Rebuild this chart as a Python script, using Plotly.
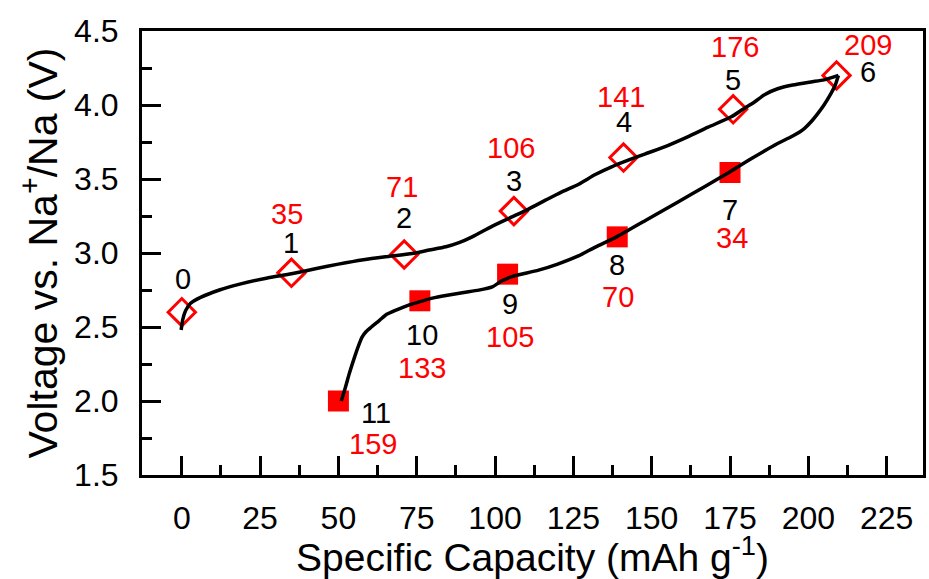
import plotly.graph_objects as go

# ---------------- data ----------------
charge_index = [0, 1, 2, 3, 4, 5, 6]
charge_capacity = [0, 35, 71, 106, 141, 176, 209]
charge_voltage = [2.60, 2.866, 2.99, 3.283, 3.645, 3.971, 4.20]

discharge_index = [7, 8, 9, 10, 11]
discharge_label = [34, 70, 105, 133, 159]
discharge_capacity = [175, 139, 104, 76, 50]
discharge_voltage = [3.544, 3.109, 2.857, 2.677, 2.00]

charge_curve_x = [-0.2, 0.3, 1.2, 2.8, 6, 12, 18.5, 27, 35, 43, 50, 58, 65, 73.6, 79,
                  84.3, 88.5, 92.7, 99, 105.4, 110, 116.1, 121, 126.7, 132, 137.2,
                  142.5, 148, 155.3, 162, 168, 175.4, 179, 182.8, 186, 190.2, 195,
                  200.8, 205, 209.6]
charge_curve_y = [2.48, 2.55, 2.61, 2.66, 2.70, 2.75, 2.79, 2.83, 2.86, 2.895, 2.925,
                  2.955, 2.975, 2.997, 3.02, 3.042, 3.07, 3.109, 3.18, 3.244, 3.29,
                  3.357, 3.41, 3.465, 3.53, 3.582, 3.627, 3.67, 3.728, 3.79, 3.85,
                  3.92, 3.97, 4.02, 4.07, 4.11, 4.135, 4.156, 4.17, 4.20]

discharge_curve_x = [209.6, 208.5, 207.2, 205, 203, 200.8, 198.7, 195, 190.2, 182,
                     174.9, 167, 158.4, 148, 138.8, 132, 126.6, 120, 113.9, 108,
                     105.4, 102, 99.1, 94.8, 90, 84.3, 80, 75.8, 72, 68.4, 65, 63.1,
                     60.5, 58.8, 57.5, 56.7, 55.2, 53.5, 52.2, 50.9]
discharge_curve_y = [4.20, 4.13, 4.077, 4.0, 3.942, 3.885, 3.841, 3.79, 3.74, 3.64,
                     3.548, 3.45, 3.345, 3.22, 3.109, 3.04, 2.98, 2.925, 2.884, 2.855,
                     2.84, 2.81, 2.771, 2.749, 2.733, 2.713, 2.695, 2.67, 2.645, 2.614,
                     2.58, 2.545, 2.50, 2.468, 2.43, 2.389, 2.30, 2.187, 2.09, 2.00]

x_ticks = [0, 25, 50, 75, 100, 125, 150, 175, 200, 225]
y_ticks = [1.5, 2.0, 2.5, 3.0, 3.5, 4.0, 4.5]

# ---------------- label offsets (pixels: dx right, dy down) ----------------
charge_idx_off = [(1, -33), (0, -30), (0, -36), (0, -30), (0, -36), (0, -29), (31, -3)]
charge_cap_off = [None, (-4, -59), (-2, -67), (-3, -63), (-3, -61), (2, -62), (31, -30)]
dis_idx_off = [(0, 38), (0, 28), (2, 30), (2, 34), (38, 12)]
dis_cap_off = [(2, 66), (1, 60), (2, 63), (2, 67), (35, 43)]

FONT = "Arial, Liberation Sans, Helvetica, sans-serif"
RED = "#ff0000"
LBL = 29

fig = go.Figure()

fig.add_trace(go.Scatter(
    x=charge_capacity, y=charge_voltage, mode="markers",
    marker=dict(symbol="diamond-open", size=21, color=RED, line=dict(width=3, color=RED)),
    showlegend=False, hoverinfo="skip"))
fig.add_trace(go.Scatter(
    x=discharge_capacity, y=discharge_voltage, mode="markers",
    marker=dict(symbol="square", size=21, color=RED, line=dict(width=0)),
    showlegend=False, hoverinfo="skip"))
fig.add_trace(go.Scatter(
    x=charge_curve_x, y=charge_curve_y, mode="lines",
    line=dict(color="black", width=3.5, shape="spline", smoothing=0.6),
    showlegend=False, hoverinfo="skip"))
fig.add_trace(go.Scatter(
    x=discharge_curve_x, y=discharge_curve_y, mode="lines",
    line=dict(color="black", width=3.5, shape="spline", smoothing=0.6),
    showlegend=False, hoverinfo="skip"))

ann = []
def add_label(x, y, text, color, off):
    ann.append(dict(x=x, y=y, xref="x", yref="y", text=str(text), showarrow=False,
                    xshift=off[0], yshift=-off[1],
                    font=dict(family=FONT, size=LBL, color=color),
                    xanchor="center", yanchor="middle"))

for i, (x, y) in enumerate(zip(charge_capacity, charge_voltage)):
    add_label(x, y, charge_index[i], "black", charge_idx_off[i])
    if charge_cap_off[i] is not None:
        add_label(x, y, charge_capacity[i], RED, charge_cap_off[i])
for i, (x, y) in enumerate(zip(discharge_capacity, discharge_voltage)):
    add_label(x, y, discharge_index[i], "black", dis_idx_off[i])
    add_label(x, y, discharge_label[i], RED, dis_cap_off[i])

fig.update_layout(
    width=929, height=579,
    margin=dict(l=142, r=3, t=31, b=104),
    plot_bgcolor="white", paper_bgcolor="white",
    font=dict(family=FONT, color="black"),
    annotations=ann,
)
fig.update_xaxes(
    range=[-12.7, 236.6], tickvals=x_ticks, ticktext=[str(v) for v in x_ticks],
    ticks="inside", ticklen=19, tickwidth=3, tickcolor="black",
    minor=dict(ticks="inside", ticklen=10, tickwidth=3, tickcolor="black", dtick=12.5, tick0=0),
    showline=True, linewidth=3, linecolor="black", mirror=True,
    showgrid=False, zeroline=False,
    tickfont=dict(family=FONT, size=32, color="black"),
    ticklabelstandoff=13,
    title=dict(text="Specific Capacity (mAh g<sup>-1</sup>)",
               font=dict(family=FONT, size=39, color="black"), standoff=2),
)
fig.update_yaxes(
    range=[1.5, 4.5], tickvals=y_ticks, ticktext=[f"{v:.1f}" for v in y_ticks],
    ticks="inside", ticklen=19, tickwidth=3, tickcolor="black",
    minor=dict(ticks="inside", ticklen=10, tickwidth=3, tickcolor="black", dtick=0.25, tick0=1.5),
    showline=True, linewidth=3, linecolor="black", mirror=True,
    showgrid=False, zeroline=False,
    tickfont=dict(family=FONT, size=32, color="black"),
    ticklabelstandoff=14,
    title=dict(text="Voltage vs. Na<sup>+</sup>/Na (V)",
               font=dict(family=FONT, size=41, color="black"), standoff=4),
)

fig.write_html("out.html")
